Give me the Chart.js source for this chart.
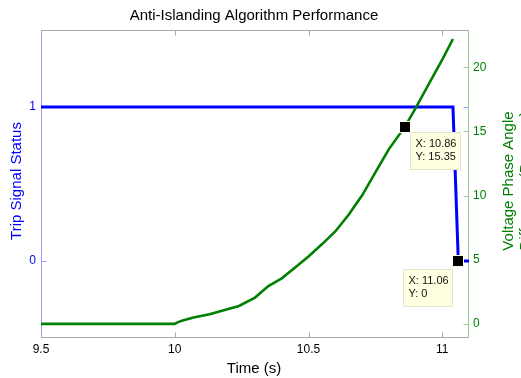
<!DOCTYPE html>
<html>
<head>
<meta charset="utf-8">
<title>Anti-Islanding Algorithm Performance</title>
<script src="https://cdn.jsdelivr.net/npm/chart.js@4.4.0/dist/chart.umd.min.js"></script>
<style>
  html, body { margin: 0; padding: 0; background: #ffffff; }
  canvas { display: block; }
</style>
</head>
<body>
<canvas id="chart" width="521" height="378"></canvas>
<script>
// Trip signal (left axis)
const TIME_TRIP = [9.5, 11.04, 11.06, 11.1];
const TRIP_STATUS = [1, 1, 0, 0];

// Voltage phase angle difference in degrees (right axis)
const TIME_ANGLE = [9.5, 10.0, 10.01, 10.03, 10.07, 10.13, 10.18, 10.24, 10.3, 10.35, 10.4, 10.45,
                    10.5, 10.55, 10.6, 10.65, 10.7, 10.75, 10.8, 10.86, 10.9, 10.95, 11.0, 11.04];
const PHASE_ANGLE = [0, 0, 0.12, 0.26, 0.49, 0.75, 1.04, 1.4, 2.05, 2.95, 3.55, 4.4,
                     5.25, 6.2, 7.2, 8.5, 10.0, 11.8, 13.6, 15.35, 16.8, 18.7, 20.6, 22.2];

// Tick labels
const TIME_TICKS = [9.5, 10, 10.5, 11];
const TRIP_TICKS = [0, 1];
const ANGLE_TICKS = [0, 5, 10, 15, 20];

// Data cursors
const TIP_TIME = [10.86, 11.06];
const TIP_VALUE = [15.35, 0];
const TIP_AXIS = ['yAngle', 'yTrip'];

const BLUE = '#0000ff';
const GREEN = '#008000';
const FONT = "'Liberation Sans', Arial, Helvetica, sans-serif";

Chart.defaults.font.family = FONT;

function toPoints(xs, ys) {
  return xs.map((x, i) => ({ x: x, y: ys[i] }));
}

function fixedTicks(values) {
  return function (scale) { scale.ticks = values.map(v => ({ value: v })); };
}

function segment(ctx, x1, y1, x2, y2) {
  ctx.beginPath();
  ctx.moveTo(x1, y1);
  ctx.lineTo(x2, y2);
  ctx.stroke();
}

// Box outline, inward tick marks for every axis
const framePlugin = {
  id: 'frame',
  beforeDatasetsDraw(chart) {
    const { ctx, chartArea: a, scales } = chart;
    const L = Math.round(a.left) + 0.5, R = Math.round(a.right) - 0.5;
    const T = Math.round(a.top) + 0.5, B = Math.round(a.bottom) - 0.5;
    const tl = 5;
    ctx.save();
    ctx.lineWidth = 1;

    ctx.strokeStyle = '#a8a8a8';
    segment(ctx, L, T, R, T);
    segment(ctx, L, B, R, B);
    TIME_TICKS.forEach(v => {
      const x = Math.round(scales.x.getPixelForValue(v)) + 0.5;
      segment(ctx, x, B, x, B - tl);
      segment(ctx, x, T, x, T + tl);
    });

    ctx.strokeStyle = '#9a9aff';
    segment(ctx, L, T, L, B);
    TRIP_TICKS.forEach(v => {
      const y = Math.round(scales.yTrip.getPixelForValue(v)) + 0.5;
      segment(ctx, L, y, L + tl, y);
      segment(ctx, R, y, R - tl, y);
    });

    ctx.strokeStyle = '#99cc99';
    segment(ctx, R, T, R, B);
    ANGLE_TICKS.forEach(v => {
      const y = Math.round(scales.yAngle.getPixelForValue(v)) + 0.5;
      segment(ctx, R, y, R - tl, y);
    });
    ctx.restore();
  }
};

// Data cursor markers with their value boxes
const TIP_STYLE = [
  { dx: 5, dy: 5, w: 50 },
  { dx: -55, dy: 8, w: 49 }
];

const tipsPlugin = {
  id: 'tips',
  afterDatasetsDraw(chart) {
    const { ctx, scales } = chart;
    ctx.save();
    TIP_TIME.forEach((t, i) => {
      const v = TIP_VALUE[i];
      const sx = scales.x.getPixelForValue(t);
      const sy = scales[TIP_AXIS[i]].getPixelForValue(v);
      const st = TIP_STYLE[i];

      const bx = Math.round(sx + st.dx) + 0.5;
      const by = Math.round(sy + st.dy) + 0.5;
      const h = 37;
      ctx.fillStyle = '#ffffe1';
      ctx.fillRect(bx, by, st.w, h);
      ctx.strokeStyle = '#e4e4cc';
      ctx.lineWidth = 1;
      ctx.strokeRect(bx, by, st.w, h);

      ctx.fillStyle = '#111111';
      ctx.font = '11px ' + FONT;
      ctx.textAlign = 'left';
      ctx.textBaseline = 'alphabetic';
      ctx.fillText('X: ' + t, bx + 5, by + 14);
      ctx.fillText('Y: ' + v, bx + 5, by + 27.5);

      ctx.fillStyle = '#000000';
      ctx.fillRect(Math.round(sx) - 5, Math.round(sy) - 5, 10, 10);
      ctx.strokeStyle = '#fffff0';
      ctx.strokeRect(Math.round(sx) - 5.5, Math.round(sy) - 5.5, 11, 11);
    });
    ctx.restore();
  }
};

// Title and axis titles
const labelsPlugin = {
  id: 'labels',
  afterDraw(chart) {
    const { ctx, chartArea: a } = chart;
    const cy = (a.top + a.bottom) / 2;
    ctx.save();
    ctx.font = '15px ' + FONT;
    ctx.textAlign = 'center';
    ctx.textBaseline = 'alphabetic';

    ctx.fillStyle = '#000000';
    ctx.fillText('Anti-Islanding Algorithm Performance', 254, 20);
    ctx.fillText('Time (s)', 254, 373);

    ctx.save();
    ctx.translate(21, cy - 3);
    ctx.rotate(-Math.PI / 2);
    ctx.fillStyle = BLUE;
    ctx.fillText('Trip Signal Status', 0, 0);
    ctx.restore();

    ctx.save();
    ctx.translate(513, cy - 3);
    ctx.rotate(-Math.PI / 2);
    ctx.fillStyle = GREEN;
    ctx.fillText('Voltage Phase Angle', 0, 0);
    ctx.fillText('Difference (Degrees)', 0, 17);
    ctx.restore();

    ctx.restore();
  }
};

new Chart(document.getElementById('chart'), {
  type: 'scatter',
  data: {
    datasets: [
      {
        label: 'Trip Signal Status',
        data: toPoints(TIME_TRIP, TRIP_STATUS),
        yAxisID: 'yTrip',
        showLine: true,
        borderColor: BLUE,
        backgroundColor: BLUE,
        borderWidth: 3,
        pointRadius: 0,
        tension: 0,
        order: 1
      },
      {
        label: 'Voltage Phase Angle Difference (Degrees)',
        data: toPoints(TIME_ANGLE, PHASE_ANGLE),
        yAxisID: 'yAngle',
        showLine: true,
        borderColor: GREEN,
        backgroundColor: GREEN,
        borderWidth: 2.6,
        pointRadius: 0,
        tension: 0,
        order: 0
      }
    ]
  },
  options: {
    responsive: false,
    devicePixelRatio: 1,
    animation: false,
    events: [],
    layout: { padding: { top: 30, left: 0, right: 0, bottom: 0 } },
    plugins: {
      legend: { display: false },
      title: { display: false },
      tooltip: { enabled: false }
    },
    scales: {
      x: {
        type: 'linear',
        position: 'bottom',
        min: 9.5,
        max: 11.1,
        afterBuildTicks: fixedTicks(TIME_TICKS),
        afterFit(s) { s.height = 40; },
        grid: { display: false, drawTicks: false },
        border: { display: false },
        ticks: {
          color: '#000000',
          font: { size: 12 },
          padding: 4,
          maxRotation: 0,
          autoSkip: false,
          callback: v => String(v)
        }
      },
      yTrip: {
        type: 'linear',
        position: 'left',
        min: -0.5,
        max: 1.5,
        afterBuildTicks: fixedTicks(TRIP_TICKS),
        afterFit(s) { s.width = 41; },
        grid: { display: false, drawTicks: false },
        border: { display: false },
        ticks: {
          color: BLUE,
          font: { size: 12 },
          padding: 5,
          callback: v => String(v)
        }
      },
      yAngle: {
        type: 'linear',
        position: 'right',
        min: -1.1,
        max: 22.9,
        afterBuildTicks: fixedTicks(ANGLE_TICKS),
        afterFit(s) { s.width = 52; },
        grid: { display: false, drawTicks: false },
        border: { display: false },
        ticks: {
          color: GREEN,
          font: { size: 12 },
          padding: 4,
          callback: v => String(v)
        }
      }
    }
  },
  plugins: [framePlugin, tipsPlugin, labelsPlugin]
});
</script>
</body>
</html>
